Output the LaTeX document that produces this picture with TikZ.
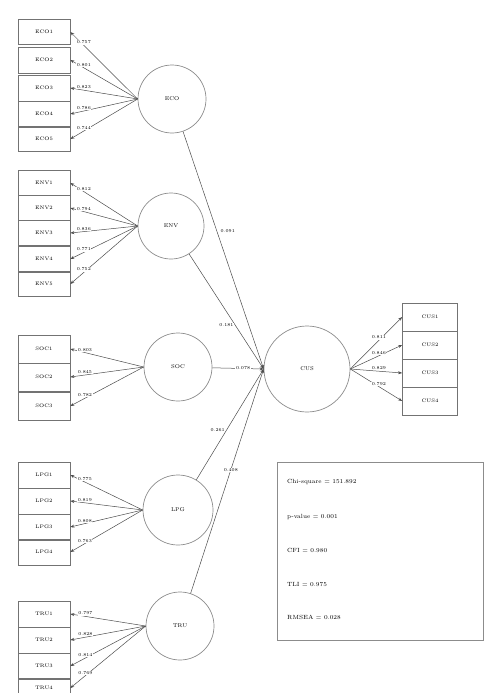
\documentclass[tikz,border=0pt]{standalone}
\usetikzlibrary{arrows.meta}
\begin{document}
\begin{tikzpicture}[x=1pt,y=-1pt,
  obs/.style={draw=black!55,line width=0.7pt,minimum width=52pt,minimum height=24pt,inner sep=0pt,font=\fontsize{5}{6}\selectfont},
  lat/.style={circle,draw=black!45,line width=0.7pt,inner sep=0pt,font=\fontsize{5.5}{6.5}\selectfont},
  con/.style={draw=black!70,line width=0.5pt,-{Stealth[length=4pt,width=3pt]}},
  val/.style={font=\fontsize{4.5}{5}\selectfont,fill=white,inner sep=0.6pt},
  fit/.style={font=\fontsize{6}{7}\selectfont,anchor=west,inner sep=0pt}]
\useasboundingbox (0,0) rectangle (485,693);
\clip (0,0) rectangle (485,693);
% latent variables
\node[lat,minimum size=68pt] (eco) at (172,99) {ECO};
\node[lat,minimum size=66pt] (env) at (171,226) {ENV};
\node[lat,minimum size=68pt] (soc) at (178,367) {SOC};
\node[lat,minimum size=70pt] (lpg) at (178,510) {LPG};
\node[lat,minimum size=68pt] (tru) at (180,626) {TRU};
\node[lat,minimum size=86pt] (cus) at (307,369) {CUS};
% ECO indicators
\node[obs,minimum height=25pt] (eco1) at (44,32) {ECO1};
\node[obs,minimum height=26pt] (eco2) at (44,60) {ECO2};
\node[obs,minimum height=26pt] (eco3) at (44,88) {ECO3};
\node[obs,minimum height=25pt] (eco4) at (44,114) {ECO4};
\node[obs,minimum height=24pt] (eco5) at (44,139) {ECO5};
\foreach \n/\v in {eco1/0.757,eco2/0.801,eco3/0.823,eco4/0.786,eco5/0.744}
  \draw[con] (eco.west) -- node[val,pos=0.8,above=0.5pt] {\v} (\n.east);
% ENV indicators
\node[obs,minimum height=25pt] (env1) at (44,183) {ENV1};
\node[obs,minimum height=25pt] (env2) at (44,208) {ENV2};
\node[obs,minimum height=25pt] (env3) at (44,233) {ENV3};
\node[obs,minimum height=26pt] (env4) at (44,259) {ENV4};
\node[obs,minimum height=25pt] (env5) at (44,284) {ENV5};
\foreach \n/\v in {env1/0.812,env2/0.794,env3/0.836,env4/0.771,env5/0.752}
  \draw[con] (env.west) -- node[val,pos=0.8,above=0.5pt] {\v} (\n.east);
% SOC indicators
\node[obs,minimum height=28pt] (soc1) at (44,349) {SOC1};
\node[obs,minimum height=28pt] (soc2) at (44,377) {SOC2};
\node[obs,minimum height=28pt] (soc3) at (44,406) {SOC3};
\foreach \n/\v in {soc1/0.803,soc2/0.845,soc3/0.782}
  \draw[con] (soc.west) -- node[val,pos=0.8,above=0.5pt] {\v} (\n.east);
% LPG indicators
\node[obs,minimum height=26pt] (lpg1) at (44,475) {LPG1};
\node[obs,minimum height=26pt] (lpg2) at (44,501) {LPG2};
\node[obs,minimum height=26pt] (lpg3) at (44,527) {LPG3};
\node[obs,minimum height=26pt] (lpg4) at (44,552) {LPG4};
\foreach \n/\v in {lpg1/0.775,lpg2/0.819,lpg3/0.808,lpg4/0.763}
  \draw[con] (lpg.west) -- node[val,pos=0.8,above=0.5pt] {\v} (\n.east);
% TRU indicators
\node[obs,minimum height=26pt] (tru1) at (44,614) {TRU1};
\node[obs,minimum height=26pt] (tru2) at (44,640) {TRU2};
\node[obs,minimum height=26pt] (tru3) at (44,666) {TRU3};
\node[obs,minimum height=20pt] (tru4) at (44,688) {TRU4};
\foreach \n/\v in {tru1/0.797,tru2/0.828,tru3/0.814,tru4/0.769}
  \draw[con] (tru.west) -- node[val,pos=0.8,above=0.5pt] {\v} (\n.east);
% CUS indicators
\node[obs,minimum width=55pt,minimum height=28pt] (cus1) at (430,317) {CUS1};
\node[obs,minimum width=55pt,minimum height=28pt] (cus2) at (430,345) {CUS2};
\node[obs,minimum width=55pt,minimum height=28pt] (cus3) at (430,373) {CUS3};
\node[obs,minimum width=55pt,minimum height=28pt] (cus4) at (430,401) {CUS4};
\foreach \n/\v in {cus1/0.811,cus2/0.846,cus3/0.829,cus4/0.792}
  \draw[con] (cus.east) -- node[val,pos=0.55,above=0.5pt] {\v} (\n.west);
% structural paths
\draw[con] (eco) -- node[val,pos=0.42,right=3pt] {0.091} (cus.west);
\draw[con] (env) -- node[val,pos=0.62,left=1pt] {0.181} (cus.west);
\draw[con] (soc) -- node[val,pos=0.6] {0.078} (cus.west);
\draw[con] (lpg) -- node[val,pos=0.45,left=1pt] {0.261} (cus.west);
\draw[con] (tru) -- node[val,pos=0.55] {0.408} (cus.west);
% fit indices
\node[draw=black!45,line width=0.8pt,minimum width=206pt,minimum height=178pt,inner sep=0pt] (fitbox) at (380,551) {};
\node[fit] (f1) at (287,482) {Chi-square = 151.892};
\node[fit] (f2) at (287,517) {p-value = 0.001};
\node[fit] (f3) at (287,550) {CFI = 0.980};
\node[fit] (f4) at (287,585) {TLI = 0.975};
\node[fit] (f5) at (287,617) {RMSEA = 0.028};
\end{tikzpicture}
\end{document}
